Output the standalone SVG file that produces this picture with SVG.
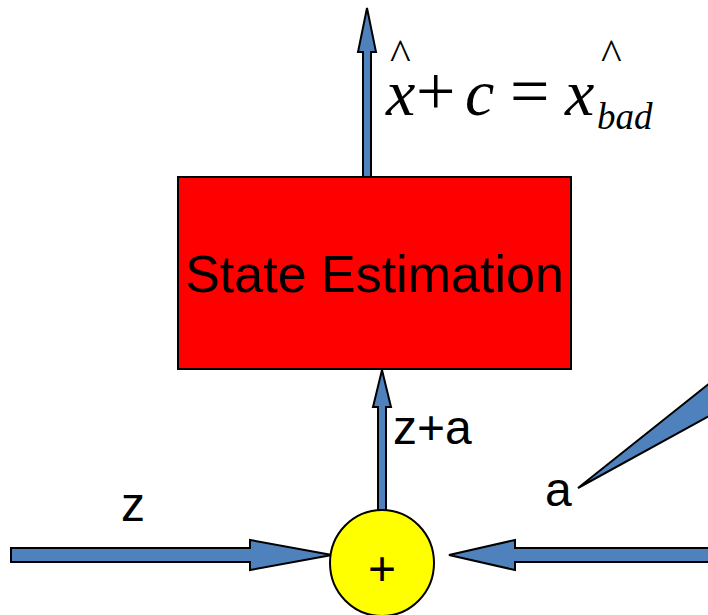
<svg xmlns="http://www.w3.org/2000/svg" width="708" height="615" viewBox="0 0 708 615">
<style>
.arr{fill:#4F81BD;stroke:#000;stroke-width:2;stroke-linejoin:miter}
.lbl{font-family:"Liberation Sans",Arial,sans-serif;font-size:48px;fill:#000}
.math{font-family:"Liberation Serif","Times New Roman",serif;fill:#000}
.it{font-style:italic}
</style>
<rect width="708" height="615" fill="#fff"/>
<g id="connectors">
<polygon class="arr" points="363,177 363,52 358,52 367,8 376,52 371,52 371,177"/>
<polygon class="arr" points="378,510 378,407 373,407 382,370 391,407 386,407 386,510"/>
<polygon class="arr" points="11,548 250,548 250,540 332,555 250,570 250,562 11,562"/>
<polygon class="arr" points="720,548 515,548 515,540 449,555 515,570 515,562 720,562"/>
<polygon class="arr" points="578,488 720,375 720,410"/>
</g>
<g id="state-estimation">
<rect x="178" y="177" width="393" height="192" fill="#FF0000" stroke="#000" stroke-width="2"/>
<text class="lbl" x="374.5" y="292" text-anchor="middle" style="font-size:52px">State Estimation</text>
</g>
<g id="sum">
<ellipse cx="382" cy="563" rx="52" ry="53" fill="#FFFF00" stroke="#000" stroke-width="2"/>
<text class="lbl" x="382" y="585" text-anchor="middle">+</text>
</g>
<g id="labels">
<text class="lbl" x="121" y="521">z</text>
<text class="lbl" x="545" y="506">a</text>
<text class="lbl" x="393" y="444">z+a</text>
</g>
<g id="equation">
<text class="math"><tspan x="390" y="69" font-size="44">^</tspan><tspan class="it" x="386" y="115" font-size="66">x</tspan><tspan x="416" y="115" font-size="70">+</tspan><tspan class="it" x="465" y="115" font-size="66">c</tspan><tspan x="510" y="115" font-size="70">=</tspan><tspan x="601" y="69" font-size="44">^</tspan><tspan class="it" x="565" y="115" font-size="66">x</tspan><tspan class="it" x="597" y="129" font-size="37">bad</tspan></text>
</g>
</svg>
